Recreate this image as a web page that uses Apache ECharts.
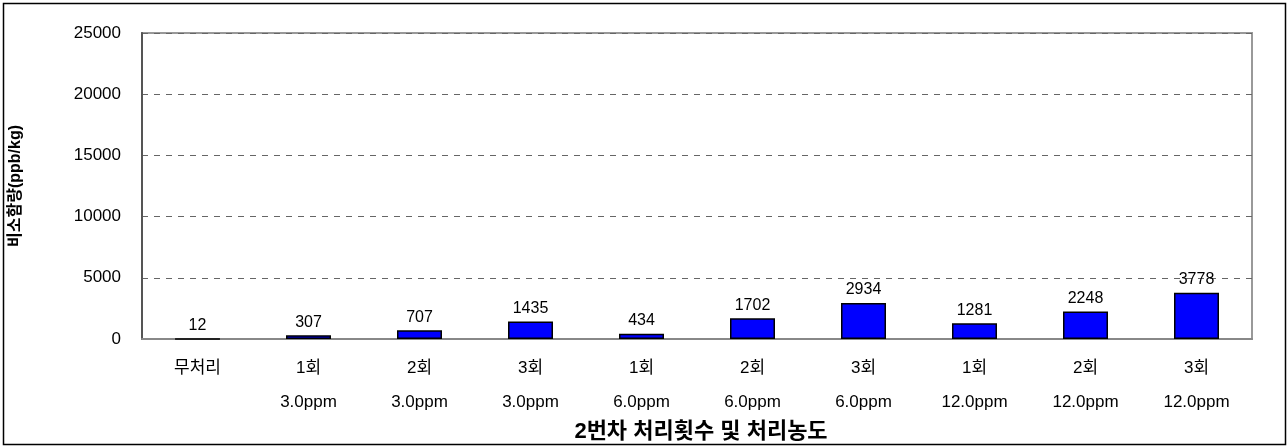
<!DOCTYPE html>
<html>
<head>
<meta charset="utf-8">
<script src="https://cdn.jsdelivr.net/npm/echarts@6/dist/echarts.min.js"></script>
<style>
  html, body { margin: 0; padding: 0; background: #fff; }
  #chart { width: 1287px; height: 446px; }
</style>
</head>
<body>
<div id="chart"></div>
<script>
// Treatment count (line 1) and concentration (line 2) for each group
const treatCounts = ['무처리', '1회', '2회', '3회', '1회', '2회', '3회', '1회', '2회', '3회'];
const treatConcs  = ['', '3.0ppm', '3.0ppm', '3.0ppm', '6.0ppm', '6.0ppm', '6.0ppm', '12.0ppm', '12.0ppm', '12.0ppm'];
const contentValues = [12, 307, 707, 1435, 434, 1702, 2934, 1281, 2248, 3778];
const yTicks = { min: 0, max: 25000, interval: 5000 };
const yTitle = '비소함량(ppb/kg)';
const xTitle = '2번차 처리횟수 및 처리농도';

const categories = treatCounts.map((c, i) => c + '\n' + treatConcs[i]);
const FONT = "'Liberation Sans', 'Noto Sans CJK KR', sans-serif";

const chart = echarts.init(document.getElementById('chart'), null, { renderer: 'canvas' });
chart.setOption({
  animation: false,
  backgroundColor: '#fff',
  textStyle: { fontFamily: FONT },
  grid: {
    left: 142, right: 35, top: 33, bottom: 107,
    show: true, borderColor: '#999', borderWidth: 2, backgroundColor: 'transparent'
  },
  xAxis: {
    type: 'category',
    data: categories,
    axisLine: { show: true, lineStyle: { color: '#888', width: 2 } },
    axisTick: { show: false },
    axisLabel: {
      interval: 0, color: '#000', fontSize: 17, fontFamily: FONT,
      lineHeight: 34, margin: 12
    }
  },
  yAxis: {
    type: 'value',
    min: yTicks.min, max: yTicks.max, interval: yTicks.interval,
    name: yTitle,
    nameLocation: 'middle',
    nameRotate: 90,
    nameGap: 118,
    nameTextStyle: { color: '#000', fontSize: 16, fontWeight: 'bold', fontFamily: FONT },
    axisLine: { show: true, lineStyle: { color: '#555', width: 2 } },
    axisTick: { show: false },
    axisLabel: {
      color: '#000', fontSize: 17, margin: 21, fontFamily: FONT,
      formatter: v => String(v)
    },
    splitLine: { show: true, lineStyle: { color: '#666', type: [6, 6], width: 1 } }
  },
  series: [{
    type: 'bar',
    data: contentValues,
    barWidth: 45,
    itemStyle: { color: '#0000ff', borderColor: '#000', borderWidth: 1.5 },
    label: {
      show: true, position: 'top', distance: 5,
      color: '#000', fontSize: 16, fontFamily: FONT
    }
  }],
  graphic: [
    {
      type: 'rect', silent: true,
      shape: { x: 3.5, y: 3.5, width: 1282, height: 441 },
      style: { fill: 'none', stroke: '#000', lineWidth: 1.5 }
    },
    {
      type: 'text', x: 701, y: 432,
      style: {
        text: xTitle, fill: '#000', fontSize: 22, fontWeight: 'bold', fontFamily: FONT,
        align: 'center', verticalAlign: 'middle'
      }
    }
  ]
});
</script>
</body>
</html>
